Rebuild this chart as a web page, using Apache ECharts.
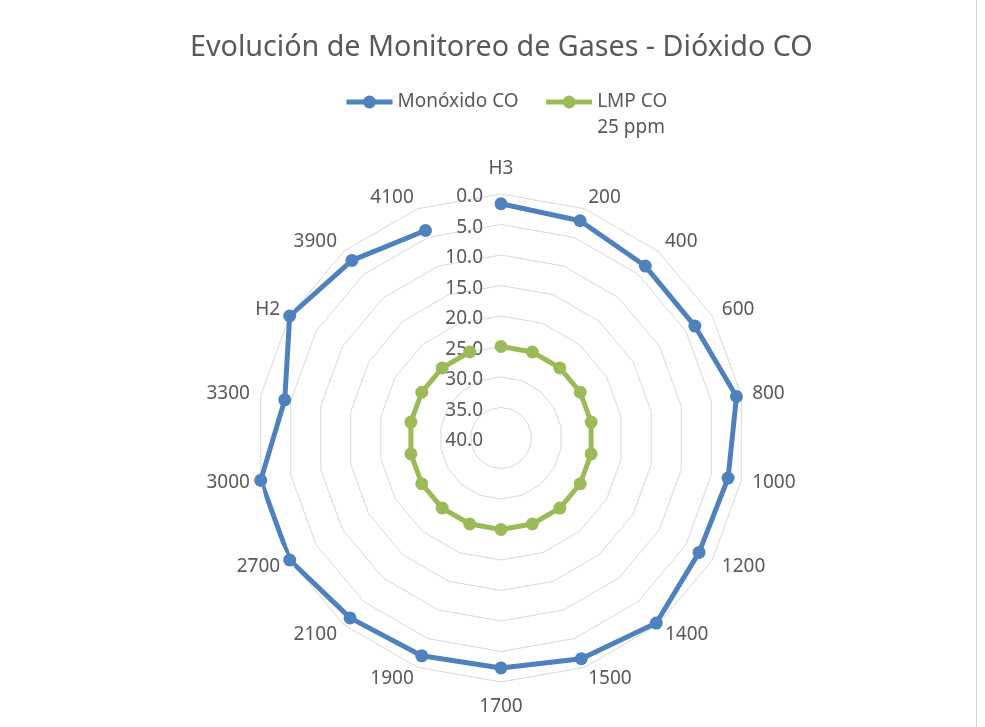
<!DOCTYPE html>
<html>
<head>
<meta charset="utf-8">
<title>Evolución de Monitoreo de Gases - Dióxido CO</title>
<script src="https://cdn.jsdelivr.net/npm/echarts@6/dist/echarts.min.js"></script>
<style>
  html, body { margin: 0; padding: 0; background: #ffffff; }
  #chart { width: 985px; height: 727px; }
</style>
</head>
<body>
<div id="chart"></div>
<script>
// Monitoring points, clockwise from the top
const categories = ['H3', '200', '400', '600', '800', '1000', '1200', '1400', '1500',
                    '1700', '1900', '2100', '2700', '3000', '3300', 'H2', '3900', '4100'];

// Measured carbon monoxide (ppm)
const monoxidoCO = [1.6, 2.1, 3.2, 3.3, 0.8, 2.2, 2.5, 0.4, 1.5,
                    2.3, 2.0, 1.5, 0.0, 0.0, 4.0, 0.0, 2.0, 3.8];

// Permissible limit (ppm)
const lmpCO = [25, 25, 25, 25, 25, 25, 25, 25, 25,
               25, 25, 25, 25, 25, 25, 25, 25, 25];

// Value axis (drawn inverted: 0 on the outer ring, 40 at the centre)
const valueMin = 0;
const valueMax = 40;
const valueStep = 5;

const seriesNames = ['Monóxido CO', 'LMP CO\n25 ppm'];
const seriesColors = ['#4F81BD', '#9BBB59'];

const textColor = '#595959';
const fontFamily = '"Noto Sans", "Liberation Sans", sans-serif';
const center = [501, 438];
const radius = 244;
const lineWidth = 5;
const dotSize = 13;

// Segment joining the last point back to the first one
function closingSegment(values) {
  return values.map((v, i) => (i === 0 || i === values.length - 1) ? v : null);
}

function lineSeries(name, values, color) {
  return {
    name: name,
    type: 'line',
    coordinateSystem: 'polar',
    data: values,
    clip: false,
    symbol: 'circle',
    symbolSize: dotSize,
    showAllSymbol: true,
    itemStyle: { color: color },
    lineStyle: { color: color, width: lineWidth },
    z: 3
  };
}

function closeSeries(values, color) {
  return {
    type: 'line',
    coordinateSystem: 'polar',
    data: closingSegment(values),
    clip: false,
    connectNulls: true,
    showSymbol: false,
    symbol: 'none',
    silent: true,
    itemStyle: { color: color },
    lineStyle: { color: color, width: lineWidth },
    z: 2
  };
}

// Category labels: the ones straight above / below the centre sit a bit further out
const angleLabels = categories.map((name, i) => {
  const n = categories.length;
  const onVertical = (i === 0 || i * 2 === n);
  return onVertical ? { value: name, textStyle: { lineHeight: 28 } } : name;
});

const chart = echarts.init(document.getElementById('chart'), null, { renderer: 'canvas' });

chart.setOption({
  backgroundColor: '#ffffff',
  animation: false,
  textStyle: { fontFamily: fontFamily },
  title: {
    text: 'Evolución de Monitoreo de Gases - Dióxido CO',
    left: 185,
    top: 28,
    textStyle: { color: textColor, fontSize: 28.7, fontWeight: 'normal', fontFamily: fontFamily }
  },
  legend: {
    data: seriesNames,
    left: 339,
    top: 58,
    itemWidth: 46,
    itemHeight: 16,
    itemGap: 25,
    lineStyle: { width: lineWidth },
    formatter: (name) => name.indexOf('\n') >= 0 ? '\u00a0\n' + name : name,
    textStyle: {
      color: textColor,
      fontSize: 19,
      fontFamily: fontFamily,
      lineHeight: 26
    }
  },
  // Polygonal grid rings
  radar: {
    center: center,
    radius: radius,
    startAngle: 90,
    shape: 'polygon',
    splitNumber: (valueMax - valueMin) / valueStep,
    indicator: categories.map(() => ({ name: '', min: valueMin, max: valueMax })),
    axisName: { show: false },
    axisLine: { show: false },
    axisTick: { show: false },
    axisLabel: { show: false },
    splitArea: { show: false },
    splitLine: { lineStyle: { color: '#D9D9D9', width: 1 } },
    z: 0
  },
  polar: { center: center, radius: radius },
  angleAxis: {
    type: 'category',
    data: angleLabels,
    startAngle: 90,
    clockwise: true,
    boundaryGap: false,
    axisLine: { show: false },
    axisTick: { show: false },
    splitLine: { show: false },
    splitArea: { show: false },
    axisLabel: { color: textColor, fontSize: 19, margin: 11, lineHeight: 2, fontFamily: fontFamily }
  },
  radiusAxis: {
    type: 'value',
    min: valueMin,
    max: valueMax,
    interval: valueStep,
    inverse: true,
    axisLine: { show: false },
    axisTick: { show: false },
    splitLine: { show: false },
    axisLabel: {
      color: textColor,
      fontSize: 19,
      margin: 18,
      verticalAlign: 'top',
      lineHeight: 6,
      fontFamily: fontFamily,
      formatter: (v) => v.toFixed(1)
    },
    z: 1
  },
  series: [
    lineSeries(seriesNames[0], monoxidoCO, seriesColors[0]),
    closeSeries(monoxidoCO, seriesColors[0]),
    lineSeries(seriesNames[1], lmpCO, seriesColors[1]),
    closeSeries(lmpCO, seriesColors[1])
  ],
  graphic: [{
    type: 'line',
    shape: { x1: 976.5, y1: 0, x2: 976.5, y2: 727 },
    style: { stroke: '#D9D9D9', lineWidth: 1 },
    silent: true
  }]
});
</script>
</body>
</html>
